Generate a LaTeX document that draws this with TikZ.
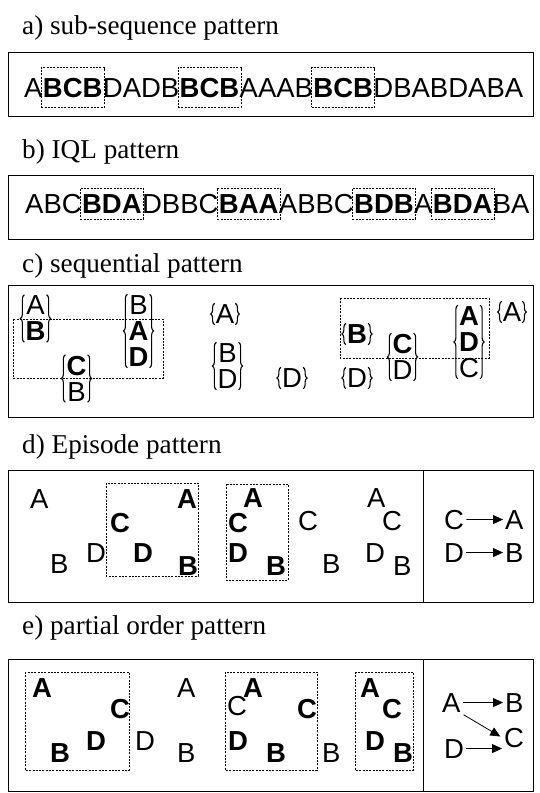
\documentclass[tikz,border=0pt]{standalone}
\usepackage{fontspec}
\setmainfont{Liberation Serif}
\newfontfamily\arialf{Liberation Sans}
\usetikzlibrary{fit,arrows.meta,decorations.pathreplacing}
\newcommand\brc[1]{\draw[brc] (#1.south west) -- (#1.north west); \draw[brc] (#1.north east) -- (#1.south east);}
\begin{document}
\begin{tikzpicture}[x=1pt,y=-1pt,
  ttl/.style={anchor=base west,inner sep=0,font=\fontsize{27.2}{30}\selectfont},
  frame/.style={draw,line width=0.9pt},
  lt/.style={anchor=base west,inner sep=0,font=\arialf\fontsize{27.5}{26}\selectfont},
  bl/.style={anchor=base west,inner sep=0,font=\arialf\bfseries\fontsize{27.5}{26}\selectfont},
  dbox/.style={draw,line width=0.6pt,dash pattern=on 2pt off 1.3pt,inner sep=0},
  stk/.style={align=center,inner xsep=1pt,inner ysep=1pt,font=\arialf\fontsize{27.5}{26}\selectfont},
  brc/.style={decorate,decoration={brace,amplitude=4pt},line width=1.1pt},
  rl/.style={anchor=base west,inner sep=2pt,font=\arialf\fontsize{27.5}{26}\selectfont},
  arr/.style={-{Triangle[length=10pt,width=9pt]},line width=0.8pt}
]
\useasboundingbox (0,0) rectangle (540,793);

% ---------- a) ----------
\node[ttl] (ta) at (22,34) {a) sub-sequence pattern};
\draw[frame] (8,52) rectangle (533,116);
\node[lt] (a1) at (24,97) {A};
\node[bl] (a2) at (a1.base east) {BCB};
\node[lt] (a3) at (a2.base east) {DADB};
\node[bl] (a4) at (a3.base east) {BCB};
\node[lt] (a5) at (a4.base east) {AAAB};
\node[bl] (a6) at (a5.base east) {BCB};
\node[lt] (a7) at (a6.base east) {DBABDABA};
\foreach \n in {a2,a4,a6}{\node[dbox,fit=(\n),inner xsep=1.5pt,inner ysep=10pt] {};}

% ---------- b) ----------
\node[ttl] (tb) at (22,158) {b) IQL pattern};
\draw[frame] (8,175) rectangle (533,239);
\node[lt] (b1) at (25,213) {ABC};
\node[bl] (b2) at (b1.base east) {BDA};
\node[lt] (b3) at (b2.base east) {DBBC};
\node[bl] (b4) at (b3.base east) {BAA};
\node[lt] (b5) at (b4.base east) {ABBC};
\node[bl] (b6) at (b5.base east) {BDB};
\node[lt] (b7) at (b6.base east) {A};
\node[bl] (b8) at (b7.base east) {BDA};
\node[lt] (b9) at (b8.base east) {BA};
\foreach \n in {b2,b4,b6,b8}{\node[dbox,fit=(\n),inner xsep=1.5pt,inner ysep=6pt] {};}

% ---------- c) ----------
\node[ttl] (tc) at (22,272) {c) sequential pattern};
\draw[frame] (8,285) rectangle (533,417);
\node[stk] (s1) at (35.5,318.5) {A\\\textbf{B}};
\node[stk] (s2) at (76.5,378.5) {\textbf{C}\\B};
\node[stk] (s3) at (138.5,331) {B\\\textbf{A}\\\textbf{D}};
\node[stk] (s4) at (225,314) {A};
\node[stk] (s5) at (227.5,366) {B\\D};
\node[stk] (s6) at (292,378) {D};
\node[stk] (s7) at (357,378) {D};
\node[stk] (s8) at (357,334) {\textbf{B}};
\node[stk] (s9) at (402.5,357) {\textbf{C}\\D};
\node[stk] (s10) at (469,342) {\textbf{A}\\\textbf{D}\\C};
\node[stk] (s11) at (512,312) {A};
\foreach \n in {s1,s2,s3,s4,s5,s6,s7,s8,s9,s10,s11}{\brc{\n}}
\draw[dbox] (13,319) rectangle (163,378);
\draw[dbox] (340,298) rectangle (489,358);

% ---------- d) ----------
\node[ttl] (td) at (22,453) {d) Episode pattern};
\draw[frame] (8,470) rectangle (533,602);
\draw[frame] (423,470) -- (423,602);
\node[lt] (d1) at (30,508) {A};
\node[lt] (d2) at (50,573) {B};
\node[lt] (d3) at (86,562) {D};
\node[bl] (d4) at (110,532) {C};
\node[bl] (d5) at (177,508) {A};
\node[bl] (d6) at (133,562) {D};
\node[bl] (d7) at (178,575) {B};
\node[bl] (d8) at (228,532) {C};
\node[bl] (d9) at (243,507) {A};
\node[bl] (d10) at (228,562) {D};
\node[bl] (d11) at (266,575) {B};
\node[lt] (d12) at (298,530) {C};
\node[lt] (d13) at (322,573) {B};
\node[lt] (d14) at (367,507) {A};
\node[lt] (d15) at (382,530) {C};
\node[lt] (d16) at (365,562) {D};
\node[lt] (d17) at (393,575) {B};
\draw[dbox] (106,483) rectangle (198,576);
\draw[dbox] (226,484) rectangle (288,580);
\node[rl] (dc) at (442,529) {C};
\node[rl] (da) at (503,529) {A};
\node[rl] (dd) at (442,562) {D};
\node[rl] (db) at (503,562) {B};
\draw[arr] (dc) -- (da);
\draw[arr] (dd) -- (db);

% ---------- e) ----------
\node[ttl] (te) at (22,634) {e) partial order pattern};
\draw[frame] (8,659) rectangle (533,791);
\draw[frame] (423,659) -- (423,791);
\node[bl] (e1) at (32,697) {A};
\node[bl] (e2) at (110,718) {C};
\node[bl] (e3) at (86,750) {D};
\node[bl] (e4) at (50,762) {B};
\node[lt] (e5) at (135,750) {D};
\node[lt] (e6) at (177,697) {A};
\node[lt] (e7) at (177,762) {B};
\node[lt] (e8) at (227,715) {C};
\node[bl] (e9) at (243,697) {A};
\node[bl] (e10) at (228,750) {D};
\node[bl] (e11) at (266,762) {B};
\node[bl] (e12) at (297,718) {C};
\node[lt] (e13) at (322,762) {B};
\node[bl] (e14) at (360,697) {A};
\node[bl] (e15) at (382,718) {C};
\node[bl] (e16) at (365,750) {D};
\node[bl] (e17) at (393,762) {B};
\draw[dbox] (25,672) rectangle (129,770);
\draw[dbox] (225,672) rectangle (317,770);
\draw[dbox] (355,672) rectangle (413,770);
\node[rl] (ea) at (440,712) {A};
\node[rl] (eb) at (503,712) {B};
\node[rl] (ed) at (442,758) {D};
\node[rl] (ec) at (502,747) {C};
\draw[arr] (ea) -- (eb);
\draw[arr,shorten <=1pt,shorten >=2pt] (ea.south east) -- (ec.west);
\draw[arr] (ed.east) -- (ed.east -| ec.west);
\end{tikzpicture}
\end{document}
